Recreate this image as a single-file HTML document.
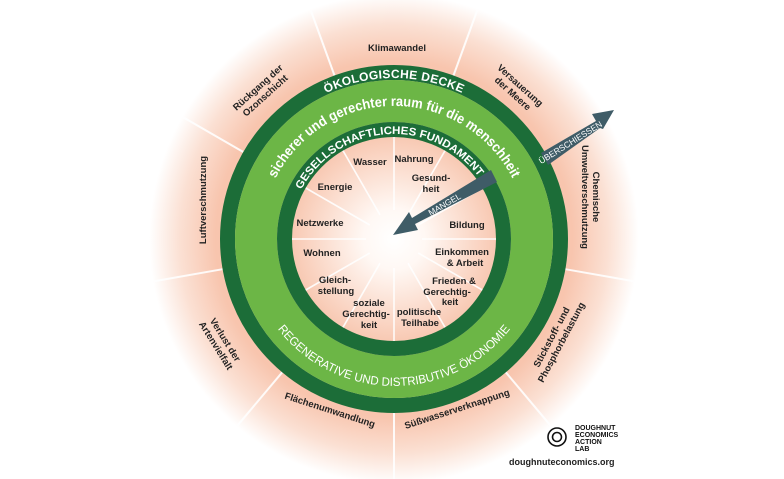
<!DOCTYPE html>
<html><head><meta charset="utf-8"><style>
html,body{margin:0;padding:0;background:#fff;}
svg{display:block;font-family:"Liberation Sans",sans-serif;}
</style></head><body>
<svg width="784" height="479" viewBox="0 0 784 479" xmlns="http://www.w3.org/2000/svg">
<defs>
<radialGradient id="bg" cx="394" cy="239" r="255" gradientUnits="userSpaceOnUse">
<stop offset="0" stop-color="#ffffff"/>
<stop offset="0.12" stop-color="#fff8f4"/>
<stop offset="0.4" stop-color="#f8c9b3"/>
<stop offset="0.7" stop-color="#f8c5ae"/>
<stop offset="0.84" stop-color="#fbe0d3"/>
<stop offset="0.96" stop-color="#ffffff"/>
</radialGradient>
<path id="pTop1" d="M 290.5 115.7 A 161 161 0 0 1 497.5 115.7"/>
<path id="pTop2" d="M 269 193.5 A 133 133 0 0 1 519 193.5"/>
<path id="pTop3" d="M 295.3 203.1 A 105 105 0 0 1 492.7 203.1"/>
<path id="pBot" d="M 266.7 312.5 A 147 147 0 0 0 521.3 312.5"/>
</defs>
<rect width="784" height="479" fill="#fff"/>
<circle cx="394" cy="239" r="255" fill="url(#bg)"/>
<g stroke="#ffffff" stroke-width="2" opacity="0.9">
<line x1="453.5" y1="75.5" x2="477.8" y2="8.8"/>
<line x1="544.7" y1="152.0" x2="606.2" y2="116.5"/>
<line x1="565.4" y1="269.2" x2="635.3" y2="281.5"/>
<line x1="505.8" y1="372.3" x2="551.5" y2="426.7"/>
<line x1="394" y1="413" x2="394" y2="484"/>
<line x1="282.2" y1="372.3" x2="236.5" y2="426.7"/>
<line x1="222.6" y1="269.2" x2="152.7" y2="281.5"/>
<line x1="243.3" y1="152.0" x2="181.8" y2="116.5"/>
<line x1="334.5" y1="75.5" x2="310.2" y2="8.8"/>
</g>
<circle cx="394" cy="239" r="166.5" fill="none" stroke="#1c6d38" stroke-width="15"/>
<circle cx="394" cy="239" r="138" fill="none" stroke="#6cb646" stroke-width="42"/>
<circle cx="394" cy="239" r="109.5" fill="none" stroke="#1c6d38" stroke-width="15"/>
<g stroke="#ffffff" stroke-width="1.6" opacity="0.9">
<line x1="394" y1="210" x2="394" y2="137"/>
<line x1="408" y1="214.8" x2="445" y2="150.7"/>
<line x1="418.2" y1="225" x2="482.3" y2="188"/>
<line x1="422" y1="239" x2="496" y2="239"/>
<line x1="418.2" y1="253" x2="482.3" y2="290"/>
<line x1="408" y1="263.2" x2="445" y2="327.3"/>
<line x1="394" y1="268" x2="394" y2="341"/>
<line x1="380" y1="263.2" x2="343" y2="327.3"/>
<line x1="369.8" y1="253" x2="305.7" y2="290"/>
<line x1="366" y1="239" x2="292" y2="239"/>
<line x1="369.8" y1="225" x2="305.7" y2="188"/>
<line x1="380" y1="214.8" x2="343" y2="150.7"/>
</g>
<g fill="#fff" font-weight="bold">
<text font-size="12" letter-spacing="0.3"><textPath href="#pTop1" startOffset="50%" text-anchor="middle">ÖKOLOGISCHE DECKE</textPath></text>
<text font-size="14"><textPath href="#pTop2" startOffset="50%" text-anchor="middle" textLength="292" lengthAdjust="spacingAndGlyphs">sicherer und gerechter raum für die menschheit</textPath></text>
<text font-size="11"><textPath href="#pTop3" startOffset="47%" text-anchor="middle" textLength="212" lengthAdjust="spacingAndGlyphs">GESELLSCHAFTLICHES FUNDAMENT</textPath></text>
</g>
<text fill="#fff" font-size="12"><textPath href="#pBot" startOffset="50%" text-anchor="middle" textLength="268" lengthAdjust="spacingAndGlyphs">REGENERATIVE UND DISTRIBUTIVE ÖKONOMIE</textPath></text>
<g fill="#3f5c67">
<polygon points="541,153 596,121 592,114 614,110 603,129 600,128 548,165"/>
<polygon points="494,176 491,170 412,218 409,212 393,235 418,230 415,224 497,182"/>
</g>
<text transform="translate(572,145) rotate(-32)" fill="#fff" font-size="8.5" text-anchor="middle">ÜBERSCHIESSEN</text>
<text transform="translate(446,207) rotate(-30)" fill="#fff" font-size="8.5" text-anchor="middle">MANGEL</text>
<g font-size="9.5" font-weight="bold" fill="#222" text-anchor="middle">
<text x="370" y="165">Wasser</text>
<text x="414" y="162">Nahrung</text>
<text x="431" y="181">Gesund-</text><text x="431" y="192">heit</text>
<text x="335" y="190">Energie</text>
<text x="467" y="228">Bildung</text>
<text x="320" y="226">Netzwerke</text>
<text x="322" y="256">Wohnen</text>
<text x="462" y="255">Einkommen</text><text x="465" y="266">&amp; Arbeit</text>
<text x="335" y="283">Gleich-</text><text x="336" y="294">stellung</text>
<text x="454" y="284">Frieden &amp;</text><text x="447" y="295">Gerechtig-</text><text x="450" y="305">keit</text>
<text x="369" y="306">soziale</text><text x="366" y="317">Gerechtig-</text><text x="369" y="328">keit</text>
<text x="419" y="315">politische</text><text x="420" y="326">Teilhabe</text>
</g>
<g font-size="9.5" font-weight="bold" fill="#222" text-anchor="middle">
<text x="397" y="51">Klimawandel</text>
<g transform="translate(516,90) rotate(42)"><text y="-3">Versauerung</text><text y="8">der Meere</text></g>
<g transform="translate(262,92) rotate(-42)"><text y="-3">Rückgang der</text><text y="8">Ozonschicht</text></g>
<text transform="translate(206,200) rotate(-90)">Luftverschmutzung</text>
<g transform="translate(590,197) rotate(90)"><text y="-3">Chemische</text><text y="8">Umweltverschmutzung</text></g>
<g transform="translate(220,343) rotate(58)"><text y="-3">Verlust der</text><text y="8">Artenvielfalt</text></g>
<g transform="translate(557,340) rotate(-62)"><text y="-3">Stickstoff- und</text><text y="8">Phosphorbelastung</text></g>
<text transform="translate(329,413) rotate(18)">Flächenumwandlung</text>
<text transform="translate(458,412) rotate(-18)">Süßwasserverknappung</text>
</g>
<circle cx="557" cy="437" r="9" fill="none" stroke="#111" stroke-width="1.6"/>
<circle cx="557" cy="437" r="4.5" fill="none" stroke="#111" stroke-width="1.6"/>
<g font-size="7" font-weight="bold" fill="#111">
<text x="575" y="430">DOUGHNUT</text>
<text x="575" y="437">ECONOMICS</text>
<text x="575" y="444">ACTION</text>
<text x="575" y="451">LAB</text>
</g>
<text x="509" y="465" font-size="9" font-weight="bold" fill="#222">doughnuteconomics.org</text>
</svg>
</body></html>
